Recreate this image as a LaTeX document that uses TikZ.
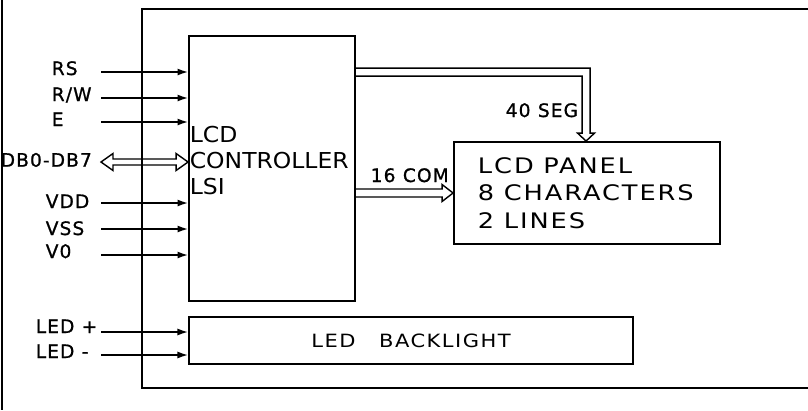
\documentclass[tikz,border=0pt]{standalone}
\usepackage{fontspec}
\setmainfont{DejaVu Sans}
\newfontfamily\pinfont[LetterSpace=6,FakeBold=1]{DejaVu Sans}
\newfontfamily\ctrlfont[FakeStretch=1.07]{DejaVu Sans}
\newfontfamily\panelfont[FakeStretch=1.2,LetterSpace=9]{DejaVu Sans}
\newfontfamily\backfont[FakeStretch=1.15,LetterSpace=8]{DejaVu Sans}
\usetikzlibrary{arrows.meta,positioning,calc}
\tikzset{
    blockBox/.style={
        draw,
        line width=1.3pt,
        inner sep=0pt
    },
    pinLabel/.style={
        inner sep=0pt,
        anchor=base west,
        font=\pinfont\fontsize{13.2}{15}\selectfont
    },
    pinArrow/.style={
        -{Latex[length=7.5pt,width=5pt]},
        line width=1.1pt
    },
    busLine/.style={
        line width=1pt,
        line join=miter
    },
    frameLine/.style={
        line width=1.3pt
    }
}

\begin{document}
\begin{tikzpicture}[x=0.025cm,y=-0.025cm]
        \useasboundingbox (0,0) rectangle (808,410);
        % frames
        \draw[frameLine] (2,0) -- (2,410);
        \draw[frameLine] (808,9) -- (142,9) -- (142,388) -- (808,388);

        % blocks
        \node[blockBox,minimum width=4.15cm,minimum height=6.625cm] (ctrl) at (272,168.5) {};
        \node[inner sep=0pt,anchor=west,align=left,font=\ctrlfont\fontsize{15.6}{18.5}\selectfont] (ctrltxt) at ($(ctrl.west)+(1.5,-8)$) {LCD\\CONTROLLER\\LSI};
        \node[blockBox,inner xsep=0.6cm,text width=5.45cm,minimum width=6.65cm,minimum height=2.55cm,align=left,font=\panelfont\fontsize{15.2}{19.6}\selectfont] (panel) at (587,193) {LCD\hspace{0.45em}PANEL\\8\hspace{0.45em}CHARACTERS\\2\hspace{0.45em}LINES};
        \node[blockBox,minimum width=11.1cm,minimum height=1.175cm,font=\backfont\fontsize{13}{15}\selectfont] (back) at (411,340.5) {LED\hspace{1.3em}BACKLIGHT};

        % pins
        \coordinate (rsin) at (101,72);
        \coordinate (rwin) at (101,98);
        \coordinate (ein) at (101,122);
        \coordinate (vddin) at (101,203);
        \coordinate (vssin) at (101,229);
        \coordinate (vzin) at (101,255);
        \coordinate (ledpin) at (101,332);
        \coordinate (ledmin) at (101,355);
        \node[pinLabel] (rs) at (51.5,75) {RS};
        \node[pinLabel] (rw) at (51.5,101) {R/W};
        \node[pinLabel] (e) at (51.5,126) {E};
        \node[pinLabel] (db) at (0.5,166.7) {DB0-DB7};
        \node[pinLabel] (vdd) at (45.5,208) {VDD};
        \node[pinLabel] (vss) at (45.5,235) {VSS};
        \node[pinLabel] (vz) at (45.5,258) {V0};
        \node[pinLabel] (ledp) at (35.5,333) {LED\hspace{0.4em}+};
        \node[pinLabel] (ledm) at (35.5,358) {LED\hspace{0.4em}-};
        \draw[pinArrow] (rsin) -- (rsin -| ctrl.west);
        \draw[pinArrow] (rwin) -- (rwin -| ctrl.west);
        \draw[pinArrow] (ein) -- (ein -| ctrl.west);
        \draw[pinArrow] (vddin) -- (vddin -| ctrl.west);
        \draw[pinArrow] (vssin) -- (vssin -| ctrl.west);
        \draw[pinArrow] (vzin) -- (vzin -| ctrl.west);
        \draw[pinArrow] (ledpin) -- (ledpin -| back.west);
        \draw[pinArrow] (ledmin) -- (ledmin -| back.west);

        % data bus
        \coordinate (dbin) at (101,162);
        \coordinate (dbout) at (dbin -| ctrl.west);
        \draw[busLine] (dbin) -- ++(12,-8.5) -- ++(0,5.5) -- ($(dbout)+(-12,-3)$) -- ++(0,-5.5) -- (dbout) -- ++(-12,8.5) -- ++(0,-5.5) -- ($(dbin)+(12,3)$) -- ++(0,5.5) -- cycle;

        % segment bus
        \coordinate (segin) at ($(ctrl.north east)+(0,37)$);
        \coordinate (segtip) at ($(panel.north west)+(133,0)$);
        \draw[busLine] ($(segin)+(0,-4)$) -- ($(segtip |- segin)+(4,-4)$) -- ($(segtip)+(4,-8)$) -- ++(4.5,0) -- (segtip) -- ++(-8.5,-8) -- ++(4.5,0) -- ($(segtip |- segin)+(-4,4)$) -- ($(segin)+(0,4)$);
        \node[pinLabel] (seg) at (505.5,117) {40\hspace{0.4em}SEG};

        % common bus
        \coordinate (comtip) at (panel.west);
        \coordinate (comin) at (comtip -| ctrl.east);
        \draw[busLine] ($(comin)+(0,-4)$) -- ($(comtip)+(-11,-4)$) -- ++(0,-4.5) -- (comtip) -- ++(-11,8.5) -- ++(0,-4.5) -- ($(comin)+(0,4)$);
        \node[pinLabel] (com) at (370.5,182) {16\hspace{0.4em}COM};
    \end{tikzpicture}
\end{document}
